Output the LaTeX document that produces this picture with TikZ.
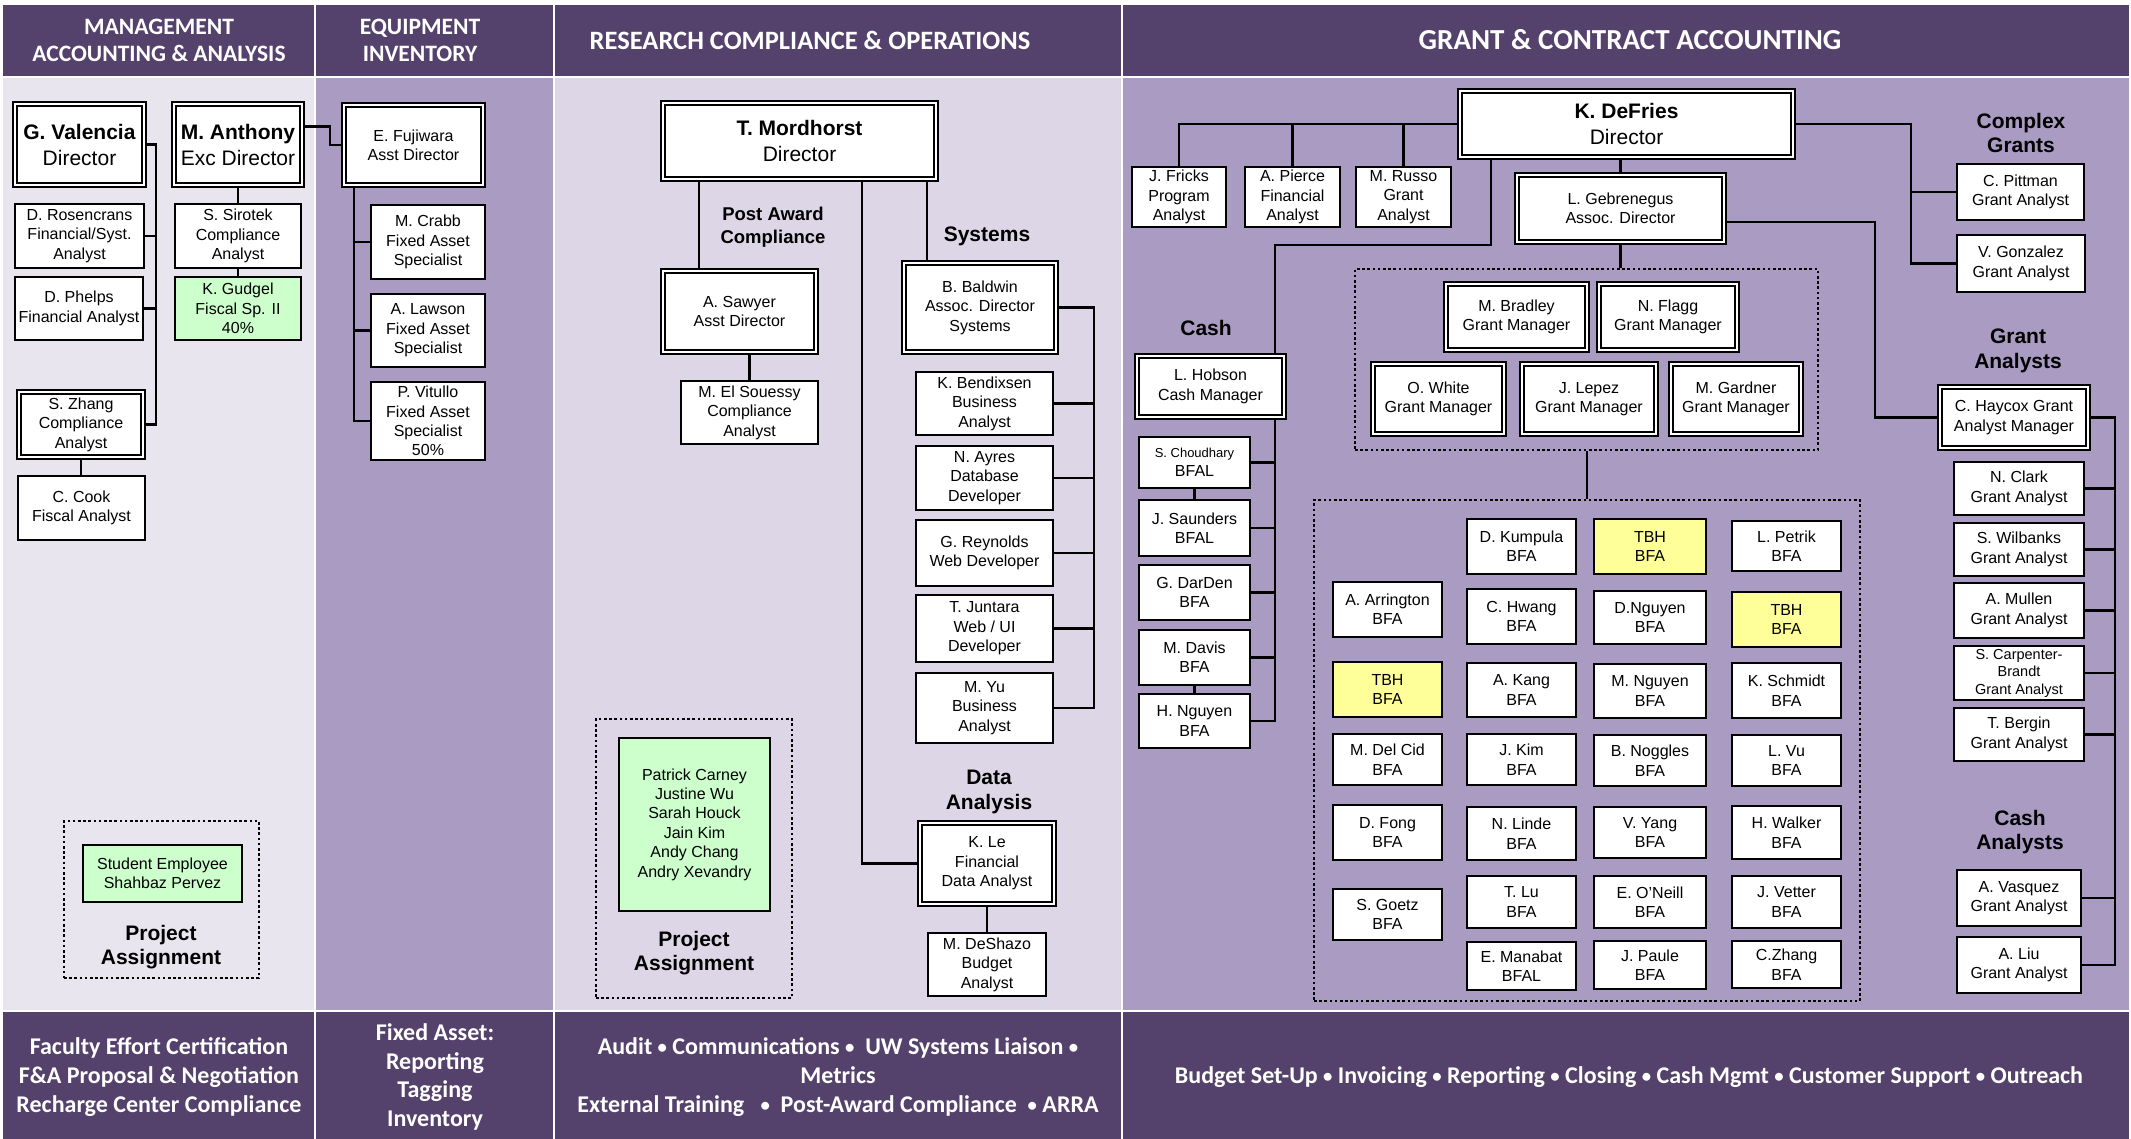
\documentclass[tikz,border=0pt]{standalone}
\usepackage{fontspec}
\usepackage{graphicx}
\setmainfont{Liberation Sans}
\newfontfamily\hdrfont{Carlito}
\definecolor{hdr}{RGB}{84,66,108}
\definecolor{paneA}{RGB}{233,229,239}
\definecolor{paneB}{RGB}{220,214,230}
\definecolor{paneM}{RGB}{169,155,194}
\definecolor{gfill}{RGB}{204,255,204}
\definecolor{yfill}{RGB}{255,255,153}
\newcommand\bul{\raisebox{0.12ex}{\scalebox{0.78}{•}}}
\newcommand\BX[7][]{%
  \pgfmathsetmacro\myW{#5-#3-2.2}%
  \pgfmathsetmacro\myH{#6-#4-2.2}%
  \pgfmathsetmacro\myX{(#3+#5)/2}%
  \pgfmathsetmacro\myY{(#4+#6)/2}%
  \node[box,#1,minimum width=\myW pt,minimum height=\myH pt] (#2) at (\myX,\myY) {#7};}
\newcommand\DBX[7][]{%
  \pgfmathsetmacro\myW{#5-#3-5.6}%
  \pgfmathsetmacro\myH{#6-#4-5.6}%
  \pgfmathsetmacro\myX{(#3+#5)/2}%
  \pgfmathsetmacro\myY{(#4+#6)/2}%
  \node[dbox,#1,minimum width=\myW pt,minimum height=\myH pt] (#2) at (\myX,\myY) {#7};}
\newcommand\DOTBX[5]{%
  \pgfmathsetmacro\myW{#4-#2-2}%
  \pgfmathsetmacro\myH{#5-#3-2}%
  \pgfmathsetmacro\myX{(#2+#4)/2}%
  \pgfmathsetmacro\myY{(#3+#5)/2}%
  \node[dotbox,minimum width=\myW pt,minimum height=\myH pt] (#1) at (\myX,\myY) {};}
\tikzset{
  box/.style={draw, line width=2.2pt, fill=white, align=center, inner sep=0pt,
    font=\fontsize{16}{19.4}\selectfont},
  dbox/.style={box, double=white, double distance=2.2pt, line width=1.7pt},
  titlebox/.style={font=\fontsize{21}{26}\selectfont},
  dotbox/.style={draw, line width=2pt, dash pattern=on 2.6pt off 2.6pt, inner sep=0pt},
  conn/.style={line width=2.2pt},
  lbl/.style={align=center, inner sep=0pt, font=\bfseries\fontsize{21}{24.5}\selectfont},
  htxt/.style={text=white, align=center, inner sep=0pt},
}
\begin{document}
\begin{tikzpicture}[x=1pt,y=-1pt]
\useasboundingbox (0,0) rectangle (2131,1139);
\fill[white] (0,0) rectangle (2131,1139);
% panels
\fill[hdr] (3,5) rectangle (314,76);
\fill[hdr] (316,5) rectangle (553,76);
\fill[hdr] (555,5) rectangle (1121,76);
\fill[hdr] (1123,5) rectangle (2129,76);
\fill[paneA] (3,78) rectangle (314,1010);
\fill[paneM] (316,78) rectangle (553,1010);
\fill[paneB] (555,78) rectangle (1121,1010);
\fill[paneM] (1123,78) rectangle (2129,1010);
\fill[hdr] (3,1012) rectangle (314,1139);
\fill[hdr] (316,1012) rectangle (553,1139);
\fill[hdr] (555,1012) rectangle (1121,1139);
\fill[hdr] (1123,1012) rectangle (2129,1139);
% header texts
\node[htxt, font=\hdrfont\bfseries\fontsize{23.5}{27}\selectfont] (h1) at (159,40) {MANAGEMENT\\ACCOUNTING \& ANALYSIS};
\node[htxt, font=\hdrfont\bfseries\fontsize{23.5}{27}\selectfont] (h2) at (420,40) {EQUIPMENT\\INVENTORY};
\node[htxt, font=\hdrfont\bfseries\fontsize{26.5}{30}\selectfont] (h3) at (810,40) {RESEARCH COMPLIANCE \& OPERATIONS};
\node[htxt, font=\hdrfont\bfseries\fontsize{29}{33}\selectfont] (h4) at (1630,40) {GRANT \& CONTRACT ACCOUNTING};
% bottom texts
\node[htxt, font=\hdrfont\bfseries\fontsize{24}{29}\selectfont] (b1) at (159,1077) {Faculty Effort Certification\\F\&A Proposal \& Negotiation\\Recharge Center Compliance};
\node[htxt, font=\hdrfont\bfseries\fontsize{24}{28.7}\selectfont] (b2) at (435,1077) {Fixed Asset:\\Reporting\\Tagging\\Inventory};
\node[htxt, font=\hdrfont\bfseries\fontsize{24}{29}\selectfont] (b3) at (838,1077) {Audit \bul{} Communications \bul\ \ UW Systems Liaison \bul\\Metrics\\External Training\ \ \ \bul\ \ Post-Award Compliance\ \ \bul{} ARRA};
\node[htxt, font=\hdrfont\bfseries\fontsize{24}{29}\selectfont] (b4) at (1629,1077) {Budget Set-Up \bul{} Invoicing \bul{} Reporting \bul{} Closing \bul{} Cash Mgmt \bul{} Customer Support \bul{} Outreach};
% dotted groups
\DOTBX{pa1}{63}{820}{260}{979}
\DOTBX{pa2}{595}{718}{793}{999}
\DOTBX{gmb}{1354}{268}{1819}{451}
\DOTBX{bfb}{1313}{499}{1861}{1002}
% ===== Management =====
\DBX[titlebox]{gv}{12}{101}{147}{188}{\textbf{G. Valencia}\\Director}
\DBX[titlebox]{ma}{171}{101}{305}{188}{\textbf{M. Anthony}\\Exc Director}
\BX{dr}{14}{203}{145}{269}{D. Rosencrans\\Financial/Syst.\\Analyst}
\BX{dp}{14}{276}{144}{341}{D. Phelps\\Financial Analyst}
\DBX{sz}{16}{389}{146}{460}{S. Zhang\\Compliance\\Analyst}
\BX{cc}{17}{475}{146}{541}{C. Cook\\Fiscal Analyst}
\BX{ss}{174}{203}{302}{269}{S. Sirotek\\Compliance\\Analyst}
\BX[fill=gfill]{kg}{174}{276}{302}{341}{K. Gudgel\\Fiscal Sp. II\\40\%}
\BX[fill=gfill]{se}{82}{844}{243}{903}{Student Employee\\Shahbaz Pervez}
\node[lbl] (pa1t) at (161,947) {Project\\Assignment};
% ===== Equipment =====
\DBX{ef}{341}{102}{486}{188}{E. Fujiwara\\Asst Director}
\BX{mc}{370}{204}{486}{280}{M. Crabb\\Fixed Asset\\Specialist}
\BX{al}{370}{293}{486}{368}{A. Lawson\\Fixed Asset\\Specialist}
\BX{pv}{370}{381}{486}{461}{P. Vitullo\\Fixed Asset\\Specialist\\50\%}
% ===== Research =====
\DBX[titlebox]{tm}{660}{100}{939}{182}{\textbf{T. Mordhorst}\\Director}
\node[lbl, font=\bfseries\fontsize{18.5}{22.5}\selectfont] (pac) at (773,227) {Post Award\\Compliance};
\DBX{as}{660}{268}{819}{355}{A. Sawyer\\Asst Director}
\BX{me}{680}{380}{819}{445}{M. El Souessy\\Compliance\\Analyst}
\node[lbl] (sys) at (987,236) {Systems};
\DBX{bb}{901}{260}{1059}{355}{B. Baldwin\\Assoc. Director\\Systems}
\BX{kb}{915}{371}{1054}{436}{K. Bendixsen\\Business\\Analyst}
\BX{na}{915}{445}{1054}{511}{N. Ayres\\Database\\Developer}
\BX{gr}{915}{519}{1054}{587}{G. Reynolds\\Web Developer}
\BX{tj}{915}{594}{1054}{663}{T. Juntara\\Web / UI\\Developer}
\BX{my}{915}{672}{1054}{744}{M. Yu\\Business\\Analyst}
\node[lbl] (dal) at (989,792) {Data\\Analysis};
\DBX{kl}{917}{820}{1057}{907}{K. Le\\Financial\\Data Analyst}
\BX{md}{927}{932}{1047}{997}{M. DeShazo\\Budget\\Analyst}
\BX[fill=gfill]{pn}{618}{737}{771}{912}{Patrick Carney\\Justine Wu\\Sarah Houck\\Jain Kim\\Andy Chang\\Andry Xevandry}
\node[lbl] (pa2t) at (694,953) {Project\\Assignment};
% ===== Grant =====
\DBX[titlebox]{kdf}{1457}{88}{1796}{160}{\textbf{K. DeFries}\\Director}
\BX{jf}{1131}{166}{1227}{228}{J. Fricks\\Program\\Analyst}
\BX{ap}{1244}{166}{1341}{228}{A. Pierce\\Financial\\Analyst}
\BX{mr}{1355}{166}{1452}{228}{M. Russo\\Grant\\Analyst}
\DBX{lg}{1514}{172}{1727}{245}{L. Gebrenegus\\Assoc. Director}
\node[lbl] (cash) at (1206,328) {Cash};
\DBX{lh}{1134}{353}{1287}{420}{L. Hobson\\Cash Manager}
\BX{sc}{1138}{436}{1251}{489}{{\fontsize{13}{16}\selectfont S. Choudhary}\\BFAL}
\BX{js}{1138}{499}{1251}{557}{J. Saunders\\BFAL}
\BX{gd}{1138}{564}{1251}{621}{G. DarDen\\BFA}
\BX{mv}{1138}{629}{1251}{686}{M. Davis\\BFA}
\BX{hn}{1138}{693}{1251}{749}{H. Nguyen\\BFA}
\DBX{mb}{1443}{281}{1590}{353}{M. Bradley\\Grant Manager}
\DBX{nf}{1596}{281}{1740}{353}{N. Flagg\\Grant Manager}
\DBX{ow}{1370}{361}{1507}{437}{O. White\\Grant Manager}
\DBX{jl}{1519}{361}{1659}{437}{J. Lepez\\Grant Manager}
\DBX{mg}{1668}{361}{1804}{437}{M. Gardner\\Grant Manager}
% BFA grid
\BX{aa}{1332}{581}{1443}{638}{A. Arrington\\BFA}
\BX[fill=yfill]{tbha}{1332}{661}{1443}{718}{TBH\\BFA}
\BX{mdc}{1332}{733}{1443}{786}{M. Del Cid\\BFA}
\BX{df}{1332}{804}{1443}{861}{D. Fong\\BFA}
\BX{sg}{1332}{888}{1443}{941}{S. Goetz\\BFA}
\BX{dk}{1466}{518}{1577}{575}{D. Kumpula\\BFA}
\BX{chw}{1466}{588}{1577}{645}{C. Hwang\\BFA}
\BX{ak}{1466}{662}{1577}{718}{A. Kang\\BFA}
\BX{jk}{1466}{733}{1577}{786}{J. Kim\\BFA}
\BX{nl}{1466}{806}{1577}{861}{N. Linde\\BFA}
\BX{tl}{1466}{875}{1577}{929}{T. Lu\\BFA}
\BX{em}{1466}{941}{1577}{991}{E. Manabat\\BFAL}
\BX[fill=yfill]{tbhb}{1593}{518}{1707}{575}{TBH\\BFA}
\BX{dn}{1593}{590}{1707}{645}{D.Nguyen\\BFA}
\BX{mn}{1593}{663}{1707}{719}{M. Nguyen\\BFA}
\BX{bn}{1593}{734}{1707}{787}{B. Noggles\\BFA}
\BX{vy}{1593}{806}{1707}{859}{V. Yang\\BFA}
\BX{eo}{1593}{875}{1707}{929}{E. O’Neill\\BFA}
\BX{jp}{1593}{940}{1707}{990}{J. Paule\\BFA}
\BX{lp}{1731}{520}{1842}{572}{L. Petrik\\BFA}
\BX[fill=yfill]{tbhc}{1731}{591}{1842}{648}{TBH\\BFA}
\BX{ks}{1731}{662}{1842}{719}{K. Schmidt\\BFA}
\BX{lv}{1731}{734}{1842}{787}{L. Vu\\BFA}
\BX{hw}{1731}{805}{1842}{860}{H. Walker\\BFA}
\BX{jv}{1731}{875}{1842}{929}{J. Vetter\\BFA}
\BX{cz}{1731}{940}{1842}{989}{C.Zhang\\BFA}
% right column
\node[lbl] (cgl) at (2021,133) {Complex\\Grants};
\BX{cp}{1956}{163}{2085}{221}{C. Pittman\\Grant Analyst}
\BX{vg}{1956}{234}{2086}{293}{V. Gonzalez\\Grant Analyst}
\node[lbl] (gal) at (2018,351) {Grant\\Analysts};
\DBX{ch}{1937}{384}{2091}{451}{C. Haycox Grant\\Analyst Manager}
\BX{nc}{1953}{461}{2085}{516}{N. Clark\\Grant Analyst}
\BX{sw}{1953}{522}{2085}{577}{S. Wilbanks\\Grant Analyst}
\BX{am}{1953}{582}{2085}{639}{A. Mullen\\Grant Analyst}
\BX[font=\fontsize{14.5}{17.5}\selectfont]{scb}{1953}{645}{2085}{701}{S. Carpenter-\\Brandt\\Grant Analyst}
\BX{tb}{1953}{707}{2085}{762}{T. Bergin\\Grant Analyst}
\node[lbl] (cal) at (2020,832) {Cash\\Analysts};
\BX{av}{1956}{869}{2082}{927}{A. Vasquez\\Grant Analyst}
\BX{alu}{1956}{936}{2082}{994}{A. Liu\\Grant Analyst}
% ===== connectors =====
\coordinate (gvT) at (156,0);
\draw[conn] (gv.east) -| (gvT |- sz.east) -- (sz.east);
\foreach \nm in {dr,dp} \draw[conn] (\nm.east) -- (\nm.east -| gvT);
\draw[conn] (ma.south) -- (ss.north);
\draw[conn] (ss.south) -- (kg.north);
\draw[conn] (sz.south) -- (sz.south |- cc.north);
\coordinate (maJ) at (330,0);
\draw[conn] ([yshift=18pt]ma.east) -| (maJ |- ef.west) -- (ef.west);
\coordinate (efT) at (354,0);
\draw[conn] (ef.south -| efT) -- (efT |- pv.west) -- (pv.west);
\foreach \nm in {mc,al} \draw[conn] (\nm.west) -- (\nm.west -| efT);
\coordinate (tA) at (699,0);
\coordinate (tB) at (862,0);
\coordinate (tC) at (927,0);
\coordinate (sysT) at (1094,0);
\draw[conn] (tm.south -| tA) -- (as.north -| tA);
\draw[conn] (tm.south -| tB) |- (kl.west);
\draw[conn] (tm.south -| tC) -- (bb.north -| tC);
\draw[conn] (as.south -| me.north) -- (me.north);
\draw[conn] (bb.east) -| (sysT |- my.east) -- (my.east);
\foreach \nm in {kb,na,gr,tj} \draw[conn] (\nm.east) -- (\nm.east -| sysT);
\draw[conn] (kl.south) -- (kl.south |- md.north);
\draw[conn] (kdf.west) -| (jf.north);
\foreach \nm in {ap,mr} \draw[conn] (\nm.north) -- (\nm.north |- kdf.west);
\coordinate (kA) at (1491,0);
\coordinate (cashJ) at (1275,245);
\coordinate (cashT) at (1275,0);
\draw[conn] (kdf.south -| kA) |- (cashJ) -- (cashJ |- lh.north);
\draw[conn] (lh.south -| cashT) -- (cashT |- hn.east) -- (hn.east);
\foreach \nm in {sc,js,gd,mv} \draw[conn] (\nm.east) -- (\nm.east -| cashT);
\draw[conn] (sc.south) -- (js.north);
\draw[conn] (mv.south) -- (hn.north);
\draw[conn] (lg.north) -- (lg.north |- kdf.south);
\draw[conn] (lg.south) -- (lg.south |- gmb.north);
\coordinate (gJ) at (1587,0);
\draw[conn] (gmb.south -| gJ) -- (bfb.north -| gJ);
\coordinate (cgT) at (1911,0);
\draw[conn] (kdf.east) -| (cgT |- vg.west) -- (vg.west);
\draw[conn] (cp.west) -- (cp.west -| cgT);
\coordinate (gaT) at (1875,0);
\draw[conn] ([yshift=-13.5pt]lg.east) -| (gaT |- ch.west) -- (ch.west);
\coordinate (anT) at (2115,0);
\draw[conn] (ch.east) -| (anT |- alu.east) -- (alu.east);
\foreach \nm in {nc,sw,am,scb,tb,av} \draw[conn] (\nm.east) -- (\nm.east -| anT);
\end{tikzpicture}
\end{document}
